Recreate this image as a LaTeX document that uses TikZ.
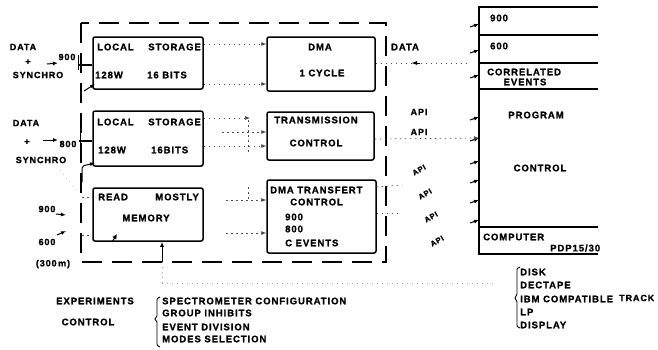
\documentclass[tikz,border=0pt]{standalone}
\usepackage{fontspec}
\setmainfont{Liberation Sans}[LetterSpace=10, BoldFeatures={FakeBold=1.2}]
\usetikzlibrary{arrows.meta}
\begin{document}
\begin{tikzpicture}[x=1pt,y=-1pt,
 t/.style={font=\bfseries\fontsize{9.5}{10}\selectfont, inner sep=0pt},
 ts/.style={font=\bfseries\fontsize{9}{10}\selectfont, inner sep=0pt},
 tapi/.style={font=\bfseries\fontsize{7.5}{8}\selectfont, inner sep=0pt, rotate=30},
 blk/.style={draw, line width=1.5pt, rounded corners=2pt, inner sep=0pt},
 frame/.style={line width=1.4pt, dash pattern=on 20pt off 10pt},
 dot/.style={line width=0.7pt, dash pattern=on 1.5pt off 3.5pt, black!70},
 faint/.style={line width=0.5pt, dash pattern=on 1pt off 4pt, black!35},
 tip/.style={-{Latex[length=5pt,width=4pt]}},
 wire/.style={line width=1pt},
]
\useasboundingbox (0,0) rectangle (658,349);

% outer dashed frame
\draw[frame] (81,23) rectangle (386,262);

% blocks
\node[blk, minimum width=110pt, minimum height=52pt] (ls1) at (148,63) {};
\node[blk, minimum width=108pt, minimum height=54pt] (dma) at (321,64) {};
\node[blk, minimum width=110pt, minimum height=55pt] (ls2) at (148,138.5) {};
\node[blk, minimum width=107pt, minimum height=48pt] (tr) at (320.5,136) {};
\node[blk, minimum width=110pt, minimum height=53pt] (rmm) at (148,214.5) {};
\node[blk, minimum width=109pt, minimum height=73pt] (dtc) at (321.5,216.5) {};

% block texts
\node[t, anchor=west] (l1a) at (97,47) {LOCAL};
\node[t, anchor=east] (l1b) at (201,47) {STORAGE};
\node[t, anchor=west] (l1c) at (95,75) {128W};
\node[t, anchor=west] (l1d) at (147,75) {16 BITS};
\node[t] (d1) at (320,47) {DMA};
\node[t] (d2) at (322,73) {1 CYCLE};
\node[t, anchor=west] (l2a) at (97,122) {LOCAL};
\node[t, anchor=east] (l2b) at (201,122) {STORAGE};
\node[t, anchor=west] (l2c) at (98,150) {128W};
\node[t, anchor=west] (l2d) at (151,150) {16BITS};
\node[t] (tr1) at (316,120) {TRANSMISSION};
\node[t] (tr2) at (316,143) {CONTROL};
\node[t, anchor=west] (r1) at (98,197) {READ};
\node[t, anchor=east] (r2) at (199,197) {MOSTLY};
\node[t] (r3) at (146,218) {MEMORY};
\node[t, anchor=west] (x1) at (270,190) {DMA TRANSFERT};
\node[t, anchor=west] (x2) at (290,202) {CONTROL};
\node[t, anchor=west] (x3) at (285,217) {900};
\node[t, anchor=west] (x4) at (285,229) {800};
\node[t, anchor=west] (x5) at (285,243) {C EVENTS};

% left inputs
\node[ts] (in1a) at (23,47) {DATA};
\node[ts] (in1b) at (28,62) {+};
\node[ts] (in1c) at (38,75) {SYNCHRO};
\node[ts] (n900a) at (67,57) {900};
\node[ts] (in2a) at (26,123) {DATA};
\node[ts] (in2b) at (27,142) {+};
\node[ts] (in2c) at (41,160) {SYNCHRO};
\node[ts] (n800a) at (68,144) {800};
\node[ts] (n900b) at (47,209) {900};
\node[ts] (n600b) at (47,242) {600};
\node[ts] (n300) at (53,264) {(300\,m)};

\coordinate (a1) at (47,64);
\coordinate (a1e) at (58,63);
\draw[wire, tip] (a1) -- (a1e);
\draw[line width=1.2pt] (78,65) -- (ls1.west |- 0,65);
\draw[wire] (78,55) -- (78,70);
\coordinate (a2) at (43,140);
\coordinate (a2e) at (58,140);
\draw[wire, tip] (a2) -- (a2e);
\draw[line width=1.2pt] (79,141) -- (ls2.west |- 0,141);
\draw[wire] (80,133) -- (80,150);
\draw[wire, tip] (84,91) -- (95,84);
\draw[wire, tip, rounded corners=2pt] (82,182) -- (82,166) -- (95,163);
\draw[faint] (60,170) -- (78,192);
\draw[wire, tip] (56,214) -- (66,215);
\draw[wire, tip] (57,235) -- (66,231);
\draw[dot] (82,197) -- (rmm.west |- 0,197);
\draw[dot] (82,235) -- (rmm.west |- 0,235);
\draw[wire, -{Latex[length=5pt,width=5pt]}] (112,242) -- (117,234);

% internal connectors
\draw[dot, tip] (ls1.east |- 0,44) -- (dma.west |- 0,44);
\draw[dot, tip] (ls1.east |- 0,84) -- (dma.west |- 0,84);
\coordinate (j1) at (250,118);
\draw[dot, tip] (ls2.east |- 0,118) -- (j1);
\draw[dot] (248,120) -- (248,153);
\draw[dot, tip] (222,132) -- (tr.west |- 0,132);
\draw[dot, tip] (ls2.east |- 0,146) -- (tr.west |- 0,146);
\draw[dot] (248,187) -- (248,202);
\draw[dot, tip] (226,200) -- (dtc.west |- 0,200);
\draw[dot, tip] (226,233) -- (dtc.west |- 0,233);

% bottom link to memory
\draw[wire, -{Latex[length=5pt,width=4pt]}] (162,262) -- (rmm.south -| 162,0);
\draw[faint] (162,262) -- (162,283);
\draw[faint] (162,283) -- (495,283);

% computer
\draw[line width=1.4pt] (598,7) -- (479,7) -- (479,254) -- (598,254);
\foreach \yy in {35,63,89,227} \draw[line width=1.2pt] (479,\yy) -- (598,\yy);
\foreach \yy [count=\i] in {24,50,75,117,138,161,180,200,220} {
  \coordinate (c\i) at (479,\yy);
  \draw[wire, -{Latex[length=5pt,width=4pt]}] (470,{\yy+3}) -- (c\i);
}
\node[t, anchor=west] (k1) at (490,18) {900};
\node[t, anchor=west] (k2) at (490,46) {600};
\node[t, anchor=west] (k3) at (487,72) {CORRELATED};
\node[t] (k4) at (525,82) {EVENTS};
\node[t] (k5) at (536,115) {PROGRAM};
\node[t] (k6) at (540,168) {CONTROL};
\node[t, anchor=west] (k7) at (483,237) {COMPUTER};
\node[t, anchor=west] (k8) at (550,248) {PDP15/30};

% right connectors
\node[t] (rd) at (405,47) {DATA};
\coordinate (dd) at (468,63);
\draw[dot] (dma.east |- 0,63) -- (dd);
\draw[wire, -{Latex[length=6pt,width=4pt]}] (420,63) -- (411,63);
\draw[dot, tip] (tr.east |- 0,139) -- (c5);
\draw[dot] (dtc.east |- 0,187) -- (402,185);
\draw[dot] (dtc.east |- 0,213) -- (398,213);
\node[ts] (api1) at (419,112) {API};
\node[ts] (api2) at (419,132) {API};
\node[tapi] (api3) at (419,170) {API};
\node[tapi] (api4) at (425,194) {API};
\node[tapi] (api5) at (431,217) {API};
\node[tapi] (api6) at (437,241) {API};

% bottom lists
\node[t] (e1) at (95,301) {EXPERIMENTS};
\node[t] (e2) at (88,322) {CONTROL};
\draw[line width=0.9pt] (160,297) .. controls (157,298) .. (157,303) -- (157,316) -- (155,319) -- (157,322) -- (157,341) .. controls (157,346) .. (160,347);
\node[t, anchor=west] (s1) at (162,301) {SPECTROMETER CONFIGURATION};
\node[t, anchor=west] (s2) at (162,313) {GROUP INHIBITS};
\node[t, anchor=west] (s3) at (162,327) {EVENT DIVISION};
\node[t, anchor=west] (s4) at (162,339) {MODES SELECTION};
\draw[line width=0.9pt] (520,267) .. controls (517,268) .. (517,272) -- (517,294) -- (515,298) -- (517,302) -- (517,323) .. controls (517,327) .. (520,328);
\node[t, anchor=west] (p1) at (520,272) {DISK};
\node[t, anchor=west] (p2) at (520,285) {DECTAPE};
\node[t, anchor=west] (p3) at (520,299) {IBM COMPATIBLE};
\node[ts, anchor=west] (p4) at (619,298) {TRACK};
\node[t, anchor=west] (p5) at (520,312) {LP};
\node[t, anchor=west] (p6) at (520,325) {DISPLAY};
\end{tikzpicture}
\end{document}
